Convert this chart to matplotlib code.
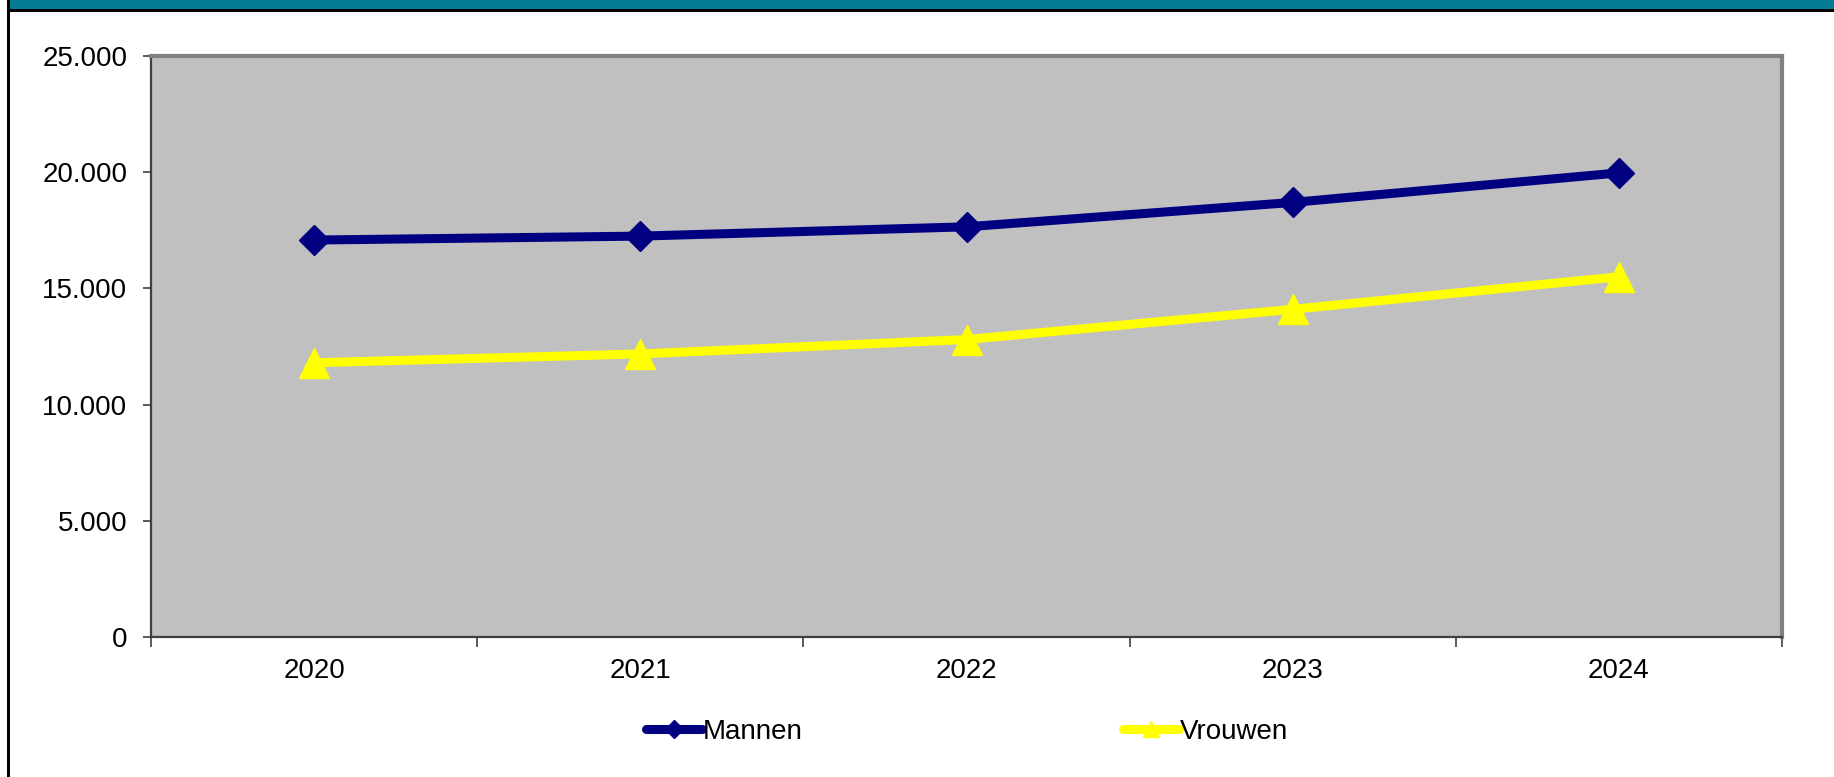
import matplotlib
matplotlib.use("Agg")
import matplotlib.pyplot as plt
from matplotlib.patches import Rectangle
from matplotlib.lines import Line2D
from matplotlib.ticker import FuncFormatter, FixedLocator

# Data
years = ["2020", "2021", "2022", "2023", "2024"]
mannen = [17080, 17250, 17650, 18700, 19970]
vrouwen = [11800, 12180, 12800, 14100, 15500]

navy = "#000080"
yellow = "#FFFF00"

plt.rcParams["font.family"] = ["Liberation Sans", "DejaVu Sans"]
fs = 20

fig = plt.figure(figsize=(18.34, 7.77), dpi=100)
W, H = 1834, 777

# teal band + black frame lines
fig.patches.append(Rectangle((10 / W, 1 - 8.5 / H), 1, 8.5 / H, transform=fig.transFigure,
                             facecolor="#027B93", edgecolor="none"))
fig.patches.append(Rectangle((7 / W, 1 - 12 / H), 1, 3.5 / H, transform=fig.transFigure,
                             facecolor="black", edgecolor="none"))
fig.patches.append(Rectangle((7 / W, 0), 3 / W, 1, transform=fig.transFigure,
                             facecolor="black", edgecolor="none"))

ax = fig.add_axes([151 / W, 1 - 637 / H, (1782 - 151) / W, (637 - 56) / H])
ax.set_facecolor("#C0C0C0")

x = range(len(years))
ax.plot(x, mannen, color=navy, lw=6.5, marker="D", ms=15.5, zorder=3)
ax.plot(x, vrouwen, color=yellow, lw=6.5, marker="^", ms=21.5, zorder=3)

ax.set_xlim(-0.5, len(years) - 0.5)
ax.set_ylim(0, 25000)
ax.set_yticks(range(0, 25001, 5000))
ax.yaxis.set_major_formatter(FuncFormatter(lambda v, p: f"{v:,.0f}".replace(",", ".")))

ax.set_xticks(list(x))
ax.set_xticklabels(years)
ax.xaxis.set_minor_locator(FixedLocator([i - 0.5 for i in range(len(years) + 1)]))
ax.tick_params(axis="x", which="major", length=0, pad=15, labelsize=fs)
ax.tick_params(axis="x", which="minor", length=7, width=1.2, color="#404040")
ax.tick_params(axis="y", length=6, width=1.2, color="#404040", pad=11, labelsize=fs)

for s in ["top", "right"]:
    ax.spines[s].set_color("#808080")
    ax.spines[s].set_linewidth(3)
for s in ["left", "bottom"]:
    ax.spines[s].set_color("#404040")
    ax.spines[s].set_linewidth(1.6)

# legend entries placed separately, like the original
h1 = Line2D([], [], color=navy, lw=6.5, marker="D", ms=9, solid_capstyle="round")
h2 = Line2D([], [], color=yellow, lw=6.5, marker="^", ms=12, solid_capstyle="round")
for h, lab, xpos in [(h1, "Mannen", 646), (h2, "Vrouwen", 1123)]:
    fig.legend([h], [lab], loc="center left", bbox_to_anchor=(xpos / W, 1 - 732 / H),
               frameon=False, fontsize=fs, handlelength=2.0, handletextpad=0.05,
               borderpad=0, borderaxespad=0)

fig.savefig("out.png", dpi=100, facecolor="white")
